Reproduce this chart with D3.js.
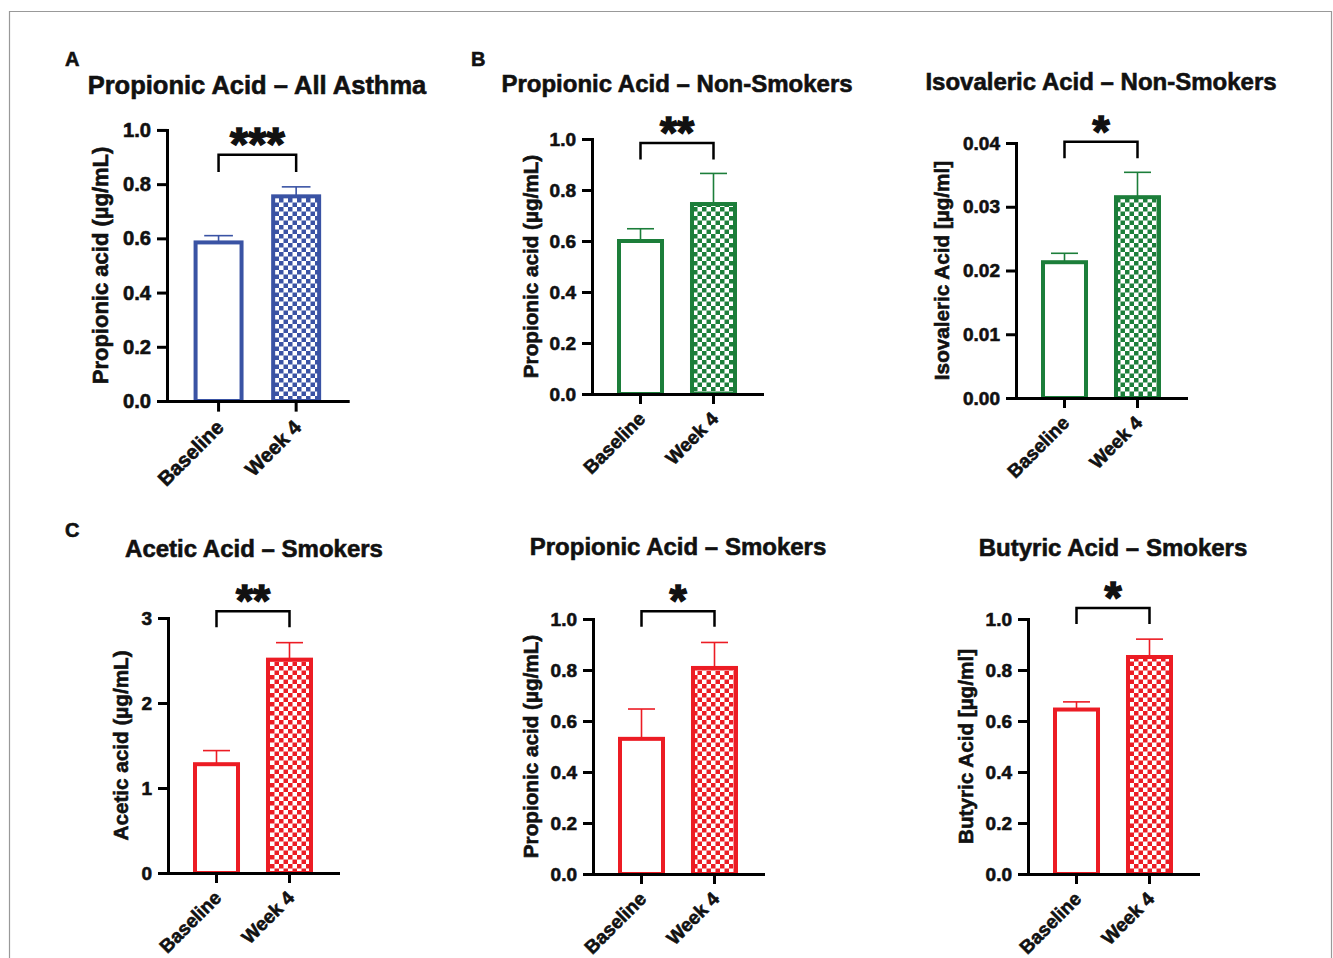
<!DOCTYPE html>
<html>
<head>
<meta charset="utf-8">
<script src="https://cdn.jsdelivr.net/npm/d3@7"></script>
<style>
  body { margin: 0; background: #fff; }
  svg { display: block; font-family: "Liberation Sans", Arial, sans-serif; font-weight: bold; }
  svg text { fill: #111; stroke: #111; stroke-width: 0.6px; }
</style>
</head>
<body>
<svg id="chart" width="1333" height="958"></svg>
<script>
const categories = ['Baseline', 'Week 4'];

const titles = [
  'Propionic Acid \u2013 All Asthma',
  'Propionic Acid \u2013 Non-Smokers',
  'Isovaleric Acid \u2013 Non-Smokers',
  'Acetic Acid \u2013 Smokers',
  'Propionic Acid \u2013 Smokers',
  'Butyric Acid \u2013 Smokers'
];
const yLabels = [
  'Propionic acid (\u00b5g/mL)',
  'Propionic acid (\u00b5g/mL)',
  'Isovaleric Acid [\u00b5g/ml]',
  'Acetic acid (\u00b5g/mL)',
  'Propionic acid (\u00b5g/mL)',
  'Butyric Acid [\u00b5g/ml]'
];

// mean and SEM per panel: [Baseline, Week 4]
const means = [
  [0.585, 0.755],
  [0.600, 0.745],
  [0.0213, 0.0315],
  [1.28, 2.51],
  [0.53, 0.808],
  [0.645, 0.851]
];
const sems = [
  [0.025, 0.035],
  [0.048, 0.12],
  [0.0014, 0.0039],
  [0.16, 0.20],
  [0.117, 0.10],
  [0.03, 0.07]
];

const yMax = [1.0, 1.0, 0.04, 3, 1.0, 1.0];
const yTicks = [
  [0, 0.2, 0.4, 0.6, 0.8, 1.0],
  [0, 0.2, 0.4, 0.6, 0.8, 1.0],
  [0, 0.01, 0.02, 0.03, 0.04],
  [0, 1, 2, 3],
  [0, 0.2, 0.4, 0.6, 0.8, 1.0],
  [0, 0.2, 0.4, 0.6, 0.8, 1.0]
];
const yTickLabels = [
  ['0.0', '0.2', '0.4', '0.6', '0.8', '1.0'],
  ['0.0', '0.2', '0.4', '0.6', '0.8', '1.0'],
  ['0.00', '0.01', '0.02', '0.03', '0.04'],
  ['0', '1', '2', '3'],
  ['0.0', '0.2', '0.4', '0.6', '0.8', '1.0'],
  ['0.0', '0.2', '0.4', '0.6', '0.8', '1.0']
];

const stars = ['***', '**', '*', '**', '*', '*'];
// bracket levels in data units: top line, bottom of legs
const bracketTop = [0.908, 0.984, 0.0402, 3.08, 1.03, 1.043];
const bracketLeg = [0.845, 0.92, 0.0376, 2.89, 0.97, 0.98];

const colors = { blue: '#3a53a4', green: '#1c7e3a', red: '#ec1c24' };

// layout: axis origin, scale, colour, title and label placement
const layout = [
  { ox: 167, oy: 401, s: 1.063, color: 'blue', tx: 257, ty: 94, lx: 108 },
  { ox: 592, oy: 394, s: 1.0, color: 'green', tx: 677, ty: 92, lx: 538 },
  { ox: 1016, oy: 398, s: 1.0, color: 'green', tx: 1101, ty: 90, lx: 949 },
  { ox: 168, oy: 873, s: 1.0, color: 'red', tx: 254, ty: 557, lx: 128 },
  { ox: 593, oy: 874, s: 1.0, color: 'red', tx: 678, ty: 555, lx: 538 },
  { ox: 1028, oy: 874, s: 1.0, color: 'red', tx: 1113, ty: 556, lx: 973 }
];
const letters = [
  { t: 'A', x: 65, y: 66 },
  { t: 'B', x: 471, y: 66 },
  { t: 'C', x: 65, y: 537 }
];

const svg = d3.select('#chart');

// frame
svg.append('path')
  .attr('d', 'M9.5,958 V11.5 H1331.5 V958')
  .attr('fill', 'none')
  .attr('stroke', '#999')
  .attr('stroke-width', 1.2);

const defs = svg.append('defs');
Object.entries(colors).forEach(([name, c]) => {
  const p = defs.append('pattern')
    .attr('id', 'check-' + name)
    .attr('patternUnits', 'userSpaceOnUse')
    .attr('width', 9)
    .attr('height', 9);
  p.append('rect').attr('width', 9).attr('height', 9).attr('fill', '#fff');
  p.append('rect').attr('width', 4.5).attr('height', 4.5).attr('fill', c);
  p.append('rect').attr('x', 4.5).attr('y', 4.5).attr('width', 4.5).attr('height', 4.5).attr('fill', c);
});

svg.selectAll('.letter')
  .data(letters)
  .join('text')
  .attr('class', 'letter')
  .attr('x', d => d.x)
  .attr('y', d => d.y)
  .attr('font-size', 20)
  .text(d => d.t);

layout.forEach((L, i) => {
  const s = L.s;
  const c = colors[L.color];
  const g = svg.append('g');

  const y = d3.scaleLinear().domain([0, yMax[i]]).range([L.oy, L.oy - 255 * s]);
  const x = d3.scaleBand()
    .domain(categories)
    .range([L.ox, L.ox + 170 * s])
    .paddingInner(0.356)
    .paddingOuter(0.3425);

  // title
  g.append('text')
    .attr('x', L.tx)
    .attr('y', L.ty)
    .attr('text-anchor', 'middle')
    .attr('font-size', 24 * s)
    .text(titles[i]);

  // bars
  const rows = categories.map((k, j) => ({ k, v: means[i][j], e: sems[i][j], j }));
  const bw = x.bandwidth();

  // error bars (upward only)
  const eb = g.append('g').attr('stroke', c).attr('stroke-width', 1.6);
  eb.selectAll('.stem')
    .data(rows)
    .join('line')
    .attr('x1', d => x(d.k) + bw / 2)
    .attr('x2', d => x(d.k) + bw / 2)
    .attr('y1', d => y(d.v))
    .attr('y2', d => y(d.v + d.e));
  eb.selectAll('.cap')
    .data(rows)
    .join('line')
    .attr('x1', d => x(d.k) + bw / 2 - 13.5 * s)
    .attr('x2', d => x(d.k) + bw / 2 + 13.5 * s)
    .attr('y1', d => y(d.v + d.e))
    .attr('y2', d => y(d.v + d.e));

  g.selectAll('.bar')
    .data(rows)
    .join('rect')
    .attr('x', d => x(d.k) + 2)
    .attr('y', d => y(d.v))
    .attr('width', bw - 4)
    .attr('height', d => y(0) - y(d.v))
    .attr('fill', d => d.j === 0 ? '#fff' : 'url(#check-' + L.color + ')')
    .attr('stroke', c)
    .attr('stroke-width', 4);

  // axes
  const yAxis = d3.axisLeft(y)
    .tickValues(yTicks[i])
    .tickFormat((d, k) => yTickLabels[i][k])
    .tickSize(10)
    .tickSizeOuter(0)
    .tickPadding(6);
  const ya = g.append('g')
    .attr('transform', `translate(${L.ox},0)`)
    .call(yAxis);

  const xAxis = d3.axisBottom(x)
    .tickSize(10 * s)
    .tickSizeOuter(0)
    .tickFormat('');
  const xa = g.append('g')
    .attr('transform', `translate(0,${L.oy})`)
    .call(xAxis);

  [ya, xa].forEach(a => {
    a.select('.domain').attr('stroke-width', 3).attr('stroke-linecap', 'square');
    a.selectAll('.tick line').attr('stroke-width', 3);
  });
  ya.selectAll('.tick text')
    .attr('font-size', 19 * s)
    .attr('font-family', '"Liberation Sans", Arial, sans-serif');

  // rotated category labels
  g.selectAll('.xlab')
    .data(categories)
    .join('text')
    .attr('class', 'xlab')
    .attr('text-anchor', 'end')
    .attr('font-size', 19 * s)
    .attr('transform', d => `translate(${x(d) + bw / 2 + 6 * s},${L.oy + 26 * s}) rotate(-45)`)
    .text(d => d);

  // y label
  g.append('text')
    .attr('text-anchor', 'middle')
    .attr('font-size', 20.7 * s)
    .attr('transform', `translate(${L.lx},${(y(0) + y(yMax[i])) / 2}) rotate(-90)`)
    .text(yLabels[i]);

  // significance bracket
  const x1 = x(categories[0]) + bw / 2;
  const x2 = x(categories[1]) + bw / 2;
  g.append('path')
    .attr('d', `M${x1},${y(bracketLeg[i])} V${y(bracketTop[i])} H${x2} V${y(bracketLeg[i])}`)
    .attr('fill', 'none')
    .attr('stroke', '#000')
    .attr('stroke-width', 2.5);
  g.append('text')
    .attr('x', (x1 + x2) / 2)
    .attr('y', y(bracketTop[i]) + 5)
    .attr('text-anchor', 'middle')
    .attr('font-size', 44 * s)
    .style('stroke-width', '1.5px')
    .text(stars[i]);
});
</script>
</body>
</html>
